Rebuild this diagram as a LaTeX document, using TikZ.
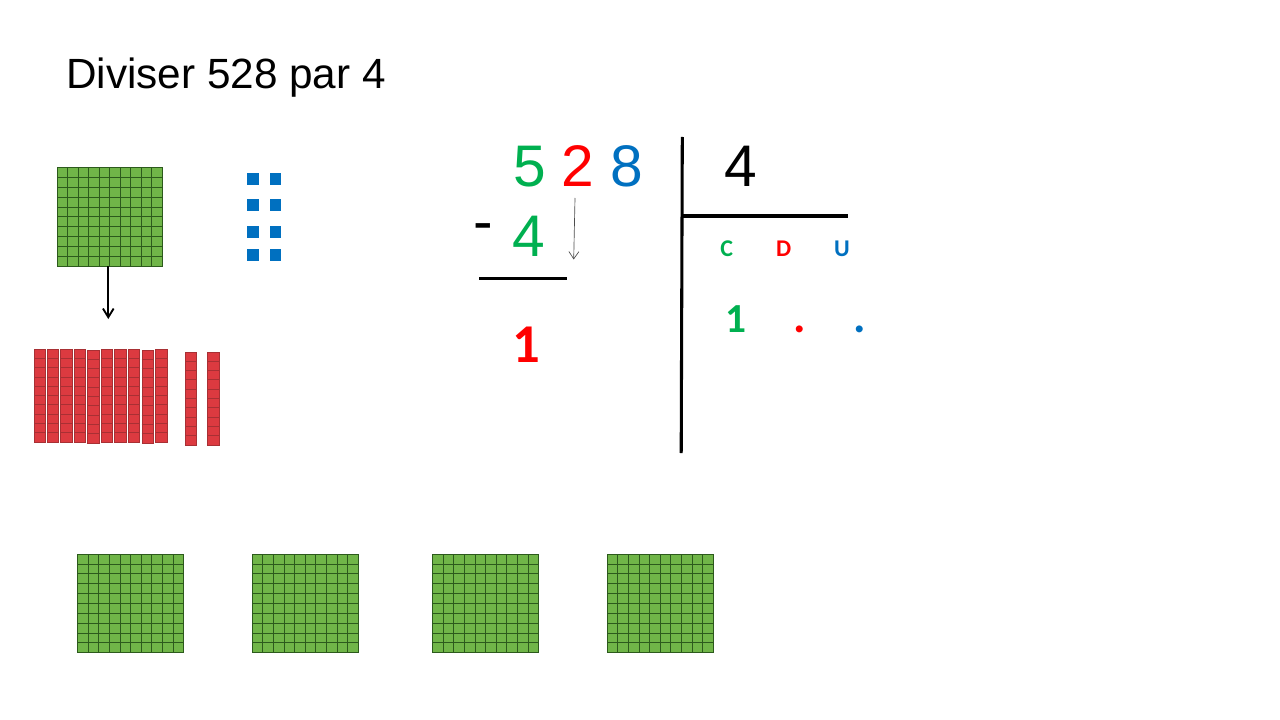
\documentclass[tikz,border=0pt]{standalone}
\usetikzlibrary{arrows.meta}
\usepackage{fontspec}
\setmainfont{Liberation Sans}
\newfontfamily\calib{Carlito}[BoldFont={Carlito Bold}]
\definecolor{cgreen}{HTML}{00B050}
\definecolor{cred}{HTML}{FF0000}
\definecolor{cblue}{HTML}{0070C0}
\definecolor{hfill}{HTML}{70B548}
\definecolor{hline}{HTML}{2C5A1C}
\definecolor{tfill}{HTML}{DC3A40}
\definecolor{tline}{HTML}{A83034}
\definecolor{ufill}{HTML}{0070C0}
% Size given in picture units (0.75pt each)
\newcommand{\pxfont}[1]{\fontsize{#1}{#1}\selectfont}
% Base-ten blocks: hundred square, ten rod, unit cube
\newcommand{\hundred}[5]{% name, x0, y0, x1, y1
  \node[hsquare, minimum width={(#4-#2)*0.75pt}, minimum height={(#5-#3)*0.75pt}] (#1) at ({(#2+#4)/2},{(#3+#5)/2}) {};
  \foreach \k in {1,...,9}{
    \draw[gridh] ({#2+(#4-#2)*\k/10},#3) -- ({#2+(#4-#2)*\k/10},#5);
    \draw[gridh] (#2,{#3+(#5-#3)*\k/10}) -- (#4,{#3+(#5-#3)*\k/10});
  }
}
\newcommand{\rod}[5]{% name, x0, y0, x1, y1
  \node[tenrod, minimum width={(#4-#2)*0.75pt}, minimum height={(#5-#3)*0.75pt}] (#1) at ({(#2+#4)/2},{(#3+#5)/2}) {};
  \foreach \k in {1,...,9}{
    \draw[gridt] (#2,{#3+(#5-#3)*\k/10}) -- (#4,{#3+(#5-#3)*\k/10});
  }
}
\newcommand{\unitcube}[5]{% name, x0, y0, x1, y1
  \node[unitsq, minimum width={(#4-#2)*0.75pt}, minimum height={(#5-#3)*0.75pt}] (#1) at ({(#2+#4)/2},{(#3+#5)/2}) {};
}
\tikzset{
  hsquare/.style={draw=hline, line width=0.7pt, fill=hfill, inner sep=0pt, outer sep=0pt},
  gridh/.style={draw=hline, line width=0.45pt},
  tenrod/.style={draw=tline, line width=0.3pt, fill=tfill, inner sep=0pt, outer sep=0pt},
  gridt/.style={draw=tline, line width=0.3pt},
  unitsq/.style={fill=ufill, inner sep=0pt, outer sep=0pt},
  bigdigit/.style={anchor=base, inner sep=0pt, font=\pxfont{44}},
  boldnum/.style={anchor=base, inner sep=0pt, font=\calib\bfseries\pxfont{#1}},
  rule/.style={line width=2.3pt, draw=black},
}
\begin{document}
\begin{tikzpicture}[x=0.75pt,y=-0.75pt]
\useasboundingbox (0,0) rectangle (1280,720);
\fill[white] (0,0) rectangle (1280,720);

\node[anchor=base west, inner sep=0pt, font=\pxfont{31.7}] (title) at (66,89) {Diviser 528 par 4};

% Hundreds
\hundred{hA}{57}{167.5}{162}{266}
\hundred{hB}{77.5}{554}{183.5}{652.5}
\hundred{hC}{252}{554}{358}{652.5}
\hundred{hD}{432.5}{554}{538.5}{652.5}
\hundred{hE}{607}{554}{713}{652.5}

% Units
\unitcube{uA}{247.3}{173}{259}{185}
\unitcube{uB}{269.7}{173}{281.3}{185}
\unitcube{uC}{247.3}{199.5}{259}{211.5}
\unitcube{uD}{269.7}{199}{281.3}{211}
\unitcube{uE}{247.3}{226}{259}{237.7}
\unitcube{uF}{269.7}{226}{281.3}{237.7}
\unitcube{uG}{247.3}{249}{259}{261}
\unitcube{uH}{269.7}{249}{281.3}{261}

% Tens
\rod{tA}{34}{349}{45}{441.7}
\rod{tB}{46.7}{349}{58}{441.7}
\rod{tC}{60.3}{349}{71.7}{441.7}
\rod{tD}{73.7}{349}{85}{441.7}
\rod{tE}{87.3}{349.7}{98.7}{442.7}
\rod{tF}{101}{349}{112.3}{441.7}
\rod{tG}{114.3}{349}{125.7}{441.7}
\rod{tH}{128}{349}{139.3}{441.7}
\rod{tI}{141.7}{349.7}{153}{442.7}
\rod{tJ}{155}{349}{166.7}{441.7}
\rod{tK}{185}{351.7}{196.3}{445}
\rod{tL}{207.3}{351.7}{218.7}{445}

% Hundred split into tens
\coordinate (splitEnd) at (108.3,319);
\draw[line width=1.4pt, -{Straight Barb[length=6.5pt,width=8pt]}] (hA.south -| splitEnd) -- (splitEnd);

% Division layout
\node[bigdigit, text=cgreen] (dC) at (530,187) {5};
\node[bigdigit, text=cred] (dD) at (578,187) {2};
\node[bigdigit, text=cblue] (dU) at (626.5,187) {8};
\node[bigdigit] (divisor) at (741,187) {4};
\node[bigdigit, text=cgreen] (sub) at (529,257) {4};
\node[bigdigit] (minus) at (483,241.5) {-};
\node[boldnum=41, text=cred] (rest) at (526.7,362.7) {1};

\coordinate (downStart) at (575,198);
\coordinate (downEnd) at (573.7,259.5);
\draw[line width=0.5pt, draw=black!70, -{Straight Barb[length=5.5pt,width=7.5pt]}] (downStart) -- (downEnd);

\coordinate (vTop) at (682.3,137);
\coordinate (vBot) at (681.2,453);
\coordinate (hL) at (682,216);
\coordinate (hR) at (848,216);
\coordinate (uL) at (479,278.5);
\coordinate (uR) at (567,278.5);
\draw[rule] (vTop) -- (vBot);
\draw[rule] (hL) -- (hR);
\draw[rule] (uL) -- (uR);

% Quotient headings and digits
\node[boldnum=18, text=cgreen] (lC) at (726.7,256.7) {C};
\node[boldnum=18, text=cred] (lD) at (783.7,256.7) {D};
\node[boldnum=18, text=cblue] (lU) at (842,256.7) {U};
\node[boldnum=31, text=cgreen] (qC) at (735.5,332) {1};
\node[boldnum=35, text=cred] (qD) at (800,332.3) {.};
\node[boldnum=35, text=cblue] (qU) at (860,332.3) {.};
\end{tikzpicture}
\end{document}
